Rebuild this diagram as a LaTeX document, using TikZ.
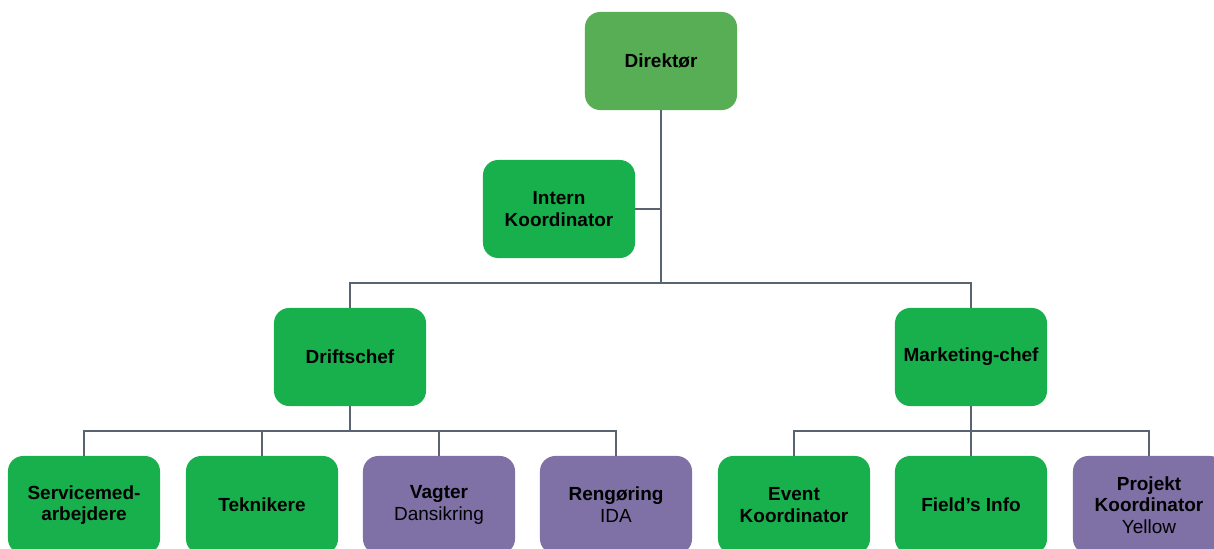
\documentclass[tikz,border=0pt]{standalone}
\usepackage{fontspec}
\setmainfont{Liberation Sans}
\definecolor{topgreen}{HTML}{57AE55}
\definecolor{boxgreen}{HTML}{17B04D}
\definecolor{boxpurple}{HTML}{7F70A5}
\definecolor{linegray}{HTML}{5A6470}
\tikzset{
  unit/.style={rounded corners=0.38cm, minimum width=3.8cm, minimum height=2.45cm,
    align=center, font=\fontsize{13.5}{15.5}\selectfont\bfseries, inner sep=2pt},
  chief/.style={unit, fill=topgreen},
  staff/.style={unit, fill=boxgreen},
  extern/.style={unit, fill=boxpurple},
  link/.style={draw=linegray, line width=1.4pt}
}
\begin{document}
\begin{tikzpicture}[x=0.025cm,y=-0.025cm]
\useasboundingbox (0,0) rectangle (1214,548);
\begin{scope}
\clip (0,0) rectangle (1214,548);
\node[chief] (dir) at (661,61) {Direktør};
\node[staff] (intern) at (559,209) {Intern\\Koordinator};
\node[staff] (drift) at (350,357) {Driftschef};
\node[staff] (mark) at (971,357) {Marketing-chef};

\node[staff] (serv) at (84,505) {Servicemed-\\arbejdere};
\node[staff] (tek) at (262,505) {Teknikere};
\node[extern] (vag) at (439,505) {Vagter\\\mdseries Dansikring};
\node[extern] (ren) at (616,505) {Rengøring\\\mdseries IDA};
\node[staff] (event) at (794,505) {Event\\Koordinator};
\node[staff] (field) at (971,505) {Field’s Info};
\node[extern] (proj) at (1149,505) {Projekt\\Koordinator\\\mdseries Yellow};

\coordinate (topbus) at (661,283);
\coordinate (dbus) at (350,431);
\coordinate (mbus) at (971,431);

\draw[link] (dir.south) -- (topbus);
\draw[link] (intern.east) -- (intern.east -| dir.south);
\draw[link] (drift.north) |- (topbus) -| (mark.north);

\draw[link] (drift.south) -- (dbus);
\foreach \n in {serv,tek,vag,ren}
  \draw[link] (dbus) -| (\n.north);

\draw[link] (mark.south) -- (mbus);
\foreach \n in {event,field,proj}
  \draw[link] (mbus) -| (\n.north);
\end{scope}
\end{tikzpicture}
\end{document}
